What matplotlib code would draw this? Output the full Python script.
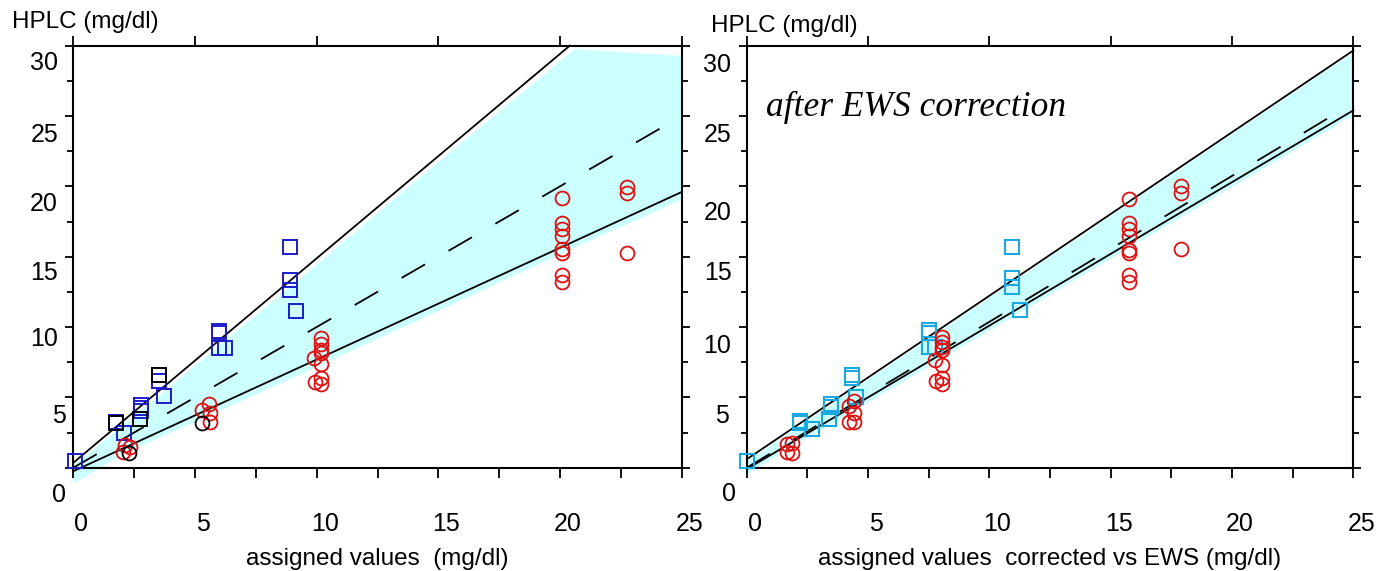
import numpy as np
import matplotlib
matplotlib.use("Agg")
import matplotlib.pyplot as plt
from matplotlib.transforms import ScaledTranslation

plt.rcParams['font.family'] = ['Liberation Sans', 'DejaVu Sans']

# ---- левая панель: до коррекции ----
blue_x = [0.05, 1.75, 2.1, 2.78, 2.78, 2.78, 3.52, 3.74, 6.0, 6.0, 6.0, 6.23, 8.9, 8.9, 8.9, 9.14]
blue_y = [0.5, 3.25, 2.44, 4.46, 4.22, 4.0, 6.16, 5.1, 9.74, 9.55, 8.53, 8.53, 15.67, 13.34, 12.6, 11.16]
black_sq_x = [1.75, 2.74, 3.52]
black_sq_y = [3.2, 3.44, 6.59]
red_x = [2.12, 2.33, 2.05, 5.27, 5.59, 5.62, 5.62,
         9.91, 10.19, 10.19, 10.19, 10.19, 10.19, 10.19, 9.95, 10.19,
         20.1, 20.1, 20.1, 20.1, 20.1, 20.1, 20.1, 20.1, 22.76, 22.76, 22.76]
red_y = [1.61, 1.49, 1.14, 4.1, 4.53, 3.87, 3.22,
         7.77, 9.2, 8.8, 8.4, 8.16, 7.38, 6.35, 6.1, 5.96,
         19.17, 17.36, 16.97, 16.45, 15.54, 15.28, 13.73, 13.21, 19.95, 19.56, 15.28]
black_ci_x = [2.3, 5.27]
black_ci_y = [1.02, 3.15]

# линии регрессии и диапазон
up_x, up_y = [0, 20.4], [0.35, 30.0]
low_x, low_y = [0, 25], [-0.25, 19.6]
id_x, id_y = [0, 25], [0, 25]
band_x = [0, 2, 5, 10, 15, 20.6, 25]
band_hi = [0.2, 3.0, 7.3, 14.5, 21.8, 29.8, 29.3]
band_lo = [-1.1, 1.0, 3.3, 7.2, 11.2, 15.7, 19.1]

# ---- правая панель: после коррекции EWS ----
lblue_x = [0.03, 2.2, 2.2, 2.68, 3.37, 3.46, 3.46, 4.33, 4.33, 4.5, 7.51, 7.51, 7.51, 7.76,
           10.93, 10.93, 10.93, 11.27]
lblue_y = [0.5, 3.2, 3.3, 2.73, 3.46, 4.53, 4.29, 6.59, 6.35, 5.05, 9.79, 9.55, 8.6, 8.6,
           15.67, 13.47, 12.82, 11.19]
red2_x = [1.65, 1.85, 1.65, 1.85, 4.23, 4.44, 4.44, 4.23, 4.44,
          7.76, 8.04, 8.04, 8.04, 8.04, 8.04, 8.04, 7.8, 8.04,
          15.75, 15.75, 15.75, 15.75, 15.75, 15.75, 15.75, 15.75, 17.88, 17.88, 17.88]
red2_y = [1.68, 1.78, 1.14, 1.02, 4.39, 4.74, 3.87, 3.27, 3.27,
          7.65, 9.31, 8.96, 8.6, 8.37, 7.3, 6.35, 6.13, 5.97,
          19.09, 17.36, 16.97, 16.5, 15.47, 15.28, 13.68, 13.21, 20.0, 19.56, 15.54]

up2_x, up2_y = [0, 25], [0.6, 29.66]
low2_x, low2_y = [0, 25], [-0.1, 25.4]
id2_x, id2_y = [0, 24.3], [0.0, 25.2]
band2_x = [0, 25]
band2_hi = [0.5, 29.6]
band2_lo = [-0.4, 25.1]

yticks = [0, 5, 10, 15, 20, 25, 30]
xticks = [0, 5, 10, 15, 20, 25]

fig = plt.figure(figsize=(13.78, 5.71), dpi=100)
ax1 = fig.add_axes([0.0532, 0.1809, 0.4415, 0.7391])
ax2 = fig.add_axes([0.5419, 0.1809, 0.4402, 0.7391])

FILL = '#ccffff'
BLUE = '#1c1cc8'
RED = '#e01010'
LBLUE = '#1aa8e0'
FS_TICK = 18
FS = 17.5
LW = 1.3

def style_axes(ax, xlab, lab_off):
    ax.set_xlim(0, 25)
    ax.set_ylim(0, 30)
    for s in ax.spines.values():
        s.set_linewidth(1.5)
    ax.set_xticks(xticks)
    ax.set_xticks(np.arange(0, 25.1, 2.5), minor=True)
    ax.set_yticks(yticks)
    ax.set_yticks(np.arange(2.5, 30, 5), minor=True)
    ax.tick_params(axis='y', which='both', direction='out', left=True, right=True,
                   width=1.3, labelsize=FS_TICK, pad=5)
    ax.tick_params(axis='y', which='major', length=6)
    ax.tick_params(axis='y', which='minor', length=4)
    ax.tick_params(axis='x', which='both', direction='out', bottom=True, top=True,
                   width=1.3, labelsize=FS_TICK, pad=25, length=7)
    ax.tick_params(axis='x', which='minor', top=False)
    ax.set_xlabel(xlab, fontsize=FS)
    ax.xaxis.set_label_coords(0.5, -0.19)
    # подписи шкалы Y в оригинале сдвинуты вниз
    for lbl, (dx, dy) in zip(ax.get_yticklabels(), lab_off):
        lbl.set_transform(lbl.get_transform() + ScaledTranslation(dx / 100, -dy / 100, fig.dpi_scale_trans))
    for lbl in ax.get_xticklabels():
        lbl.set_transform(lbl.get_transform() + ScaledTranslation(8 / 100, 0, fig.dpi_scale_trans))

# левая панель
ax1.fill_between(band_x, band_lo, band_hi, color=FILL, lw=0, clip_on=False, zorder=1)
ax1.plot(up_x, up_y, color='black', lw=LW, clip_on=False, zorder=2)
ax1.plot(low_x, low_y, color='black', lw=LW, clip_on=False, zorder=2)
ax1.plot(id_x, id_y, color='black', lw=LW, ls=(0, (15, 15)), zorder=2)
ax1.plot(blue_x, blue_y, 's', ms=10, mfc='none', mec=BLUE, mew=1.4, clip_on=False, zorder=3)
ax1.plot(black_sq_x, black_sq_y, 's', ms=10, mfc='none', mec='black', mew=1.4, zorder=3)
ax1.plot(red_x, red_y, 'o', ms=10, mfc='none', mec=RED, mew=1.3, zorder=3)
ax1.plot(black_ci_x, black_ci_y, 'o', ms=10, mfc='none', mec='black', mew=1.3, zorder=3)
style_axes(ax1, 'assigned values  (mg/dl)',
           [(8, 25), (8, 16), (0, 9), (0, 14), (0, 15), (0, 16), (0, 15)])
ax1.text(-0.101, 1.056, 'HPLC (mg/dl)', transform=ax1.transAxes, fontsize=FS, va='center', ha='left')

# правая панель
ax2.fill_between(band2_x, band2_lo, band2_hi, color=FILL, lw=0, clip_on=False, zorder=1)
ax2.plot(up2_x, up2_y, color='black', lw=LW, clip_on=False, zorder=2)
ax2.plot(low2_x, low2_y, color='black', lw=LW, clip_on=False, zorder=2)
ax2.plot(id2_x, id2_y, color='black', lw=LW, ls=(0, (15, 15)), zorder=2)
ax2.plot(lblue_x, lblue_y, 's', ms=10, mfc='none', mec=LBLUE, mew=1.5, clip_on=False, zorder=3)
ax2.plot(red2_x, red2_y, 'o', ms=10, mfc='none', mec=RED, mew=1.3, zorder=3)
style_axes(ax2, 'assigned values  corrected vs EWS (mg/dl)',
           [(5, 24), (-3, 16), (0, 16), (0, 14), (0, 24), (0, 16), (0, 17)])
ax2.text(-0.059, 1.047, 'HPLC (mg/dl)', transform=ax2.transAxes, fontsize=FS, va='center', ha='left')
ax2.text(0.031, 0.833, 'after EWS correction', transform=ax2.transAxes,
         fontsize=25.5, style='italic', family='Liberation Serif', va='baseline', ha='left')

fig.savefig('out.png', dpi=100)
